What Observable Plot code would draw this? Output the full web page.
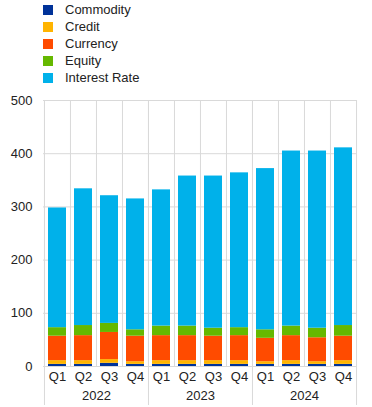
<!DOCTYPE html>
<html>
<head>
<meta charset="utf-8">
<script src="https://cdn.jsdelivr.net/npm/d3@7"></script>
<script src="https://cdn.jsdelivr.net/npm/@observablehq/plot@0.6"></script>
<style>
  body { margin: 0; background: #fff; font-family: "Liberation Sans", Arial, sans-serif; }
  #legend { padding-top: 1px; height: 85px; }
  .row { display: flex; align-items: center; height: 17px; font-size: 13px; color: #222; }
  .sw { width: 10px; height: 10px; margin-left: 43px; margin-right: 12px; }
</style>
</head>
<body>
<div id="legend"></div>
<div id="chart"></div>
<script>
const years = ["2022", "2023", "2024"];
const quarters = ["Q1", "Q2", "Q3", "Q4"];
const seriesNames = ["Commodity", "Credit", "Currency", "Equity", "Interest Rate"];
const colors = ["#003299", "#FFB400", "#FF4B00", "#65B800", "#00B1EA"];
const commodity = [4, 4, 6, 4, 4, 4, 4, 4, 4, 4, 4, 4];
const credit = [7, 7, 7, 5, 7, 7, 7, 7, 5, 7, 5, 7];
const currency = [46, 47, 51, 48, 47, 47, 46, 47, 44, 47, 45, 46];
const equity = [16, 19, 17, 12, 18, 18, 15, 15, 16, 18, 18, 20];
const interestRate = [225, 257, 240, 246, 256, 282, 286, 291, 303, 329, 333, 334];
const yTicks = [0, 100, 200, 300, 400, 500];

const keys = years.flatMap(y => quarters.map(q => y + " " + q));
const seriesValues = [commodity, credit, currency, equity, interestRate];
const data = [];
keys.forEach((k, i) => {
  seriesNames.forEach((s, j) => data.push({key: k, series: s, value: seriesValues[j][i]}));
});

// legend
const legend = document.getElementById("legend");
seriesNames.forEach((s, j) => {
  const row = document.createElement("div");
  row.className = "row";
  row.innerHTML = `<div class="sw" style="background:${colors[j]}"></div><span>${s}</span>`;
  legend.appendChild(row);
});

const width = 372, height = 321, ml = 43, mr = 16, mt = 14, mb = 41;
const step = (width - ml - mr) / keys.length;
const grid = "#d9d9d9";
const yearStarts = years.map(y => y + " Q1");
const lastKey = keys[keys.length - 1];

const chart = Plot.plot({
  width, height,
  marginLeft: ml, marginRight: mr, marginTop: mt, marginBottom: mb,
  style: {fontFamily: "'Liberation Sans', Arial, sans-serif", fontSize: "13px", color: "#222"},
  x: {type: "band", domain: keys, paddingInner: 0.31, paddingOuter: 0.155},
  y: {domain: [0, 500]},
  color: {domain: seriesNames, range: colors},
  marks: [
    Plot.ruleY(yTicks, {stroke: grid, strokeWidth: 1}),
    Plot.ruleX(keys, {x: d => d, dx: -step / 2, stroke: grid}),
    Plot.ruleX([lastKey], {x: d => d, dx: step / 2, stroke: grid, insetBottom: -39}),
    Plot.ruleX(yearStarts, {x: d => d, dx: -step / 2, stroke: grid, insetBottom: -39}),
    Plot.barY(data, Plot.stackY({order: seriesNames}, {x: "key", y: "value", fill: "series"})),
    Plot.axisY({ticks: yTicks, tickSize: 0, tickPadding: 11, label: null, fontSize: 13}),
    Plot.axisX({tickSize: 0, tickPadding: 5, label: null, fontSize: 13, tickFormat: d => d.split(" ")[1]}),
    Plot.text(years, {x: d => d + " Q3", y: () => 0, dx: -step / 2, dy: 29.5, text: d => d, fontSize: 13, fill: "#222", lineAnchor: "middle"})
  ]
});
document.getElementById("chart").appendChild(chart);
</script>
</body>
</html>
